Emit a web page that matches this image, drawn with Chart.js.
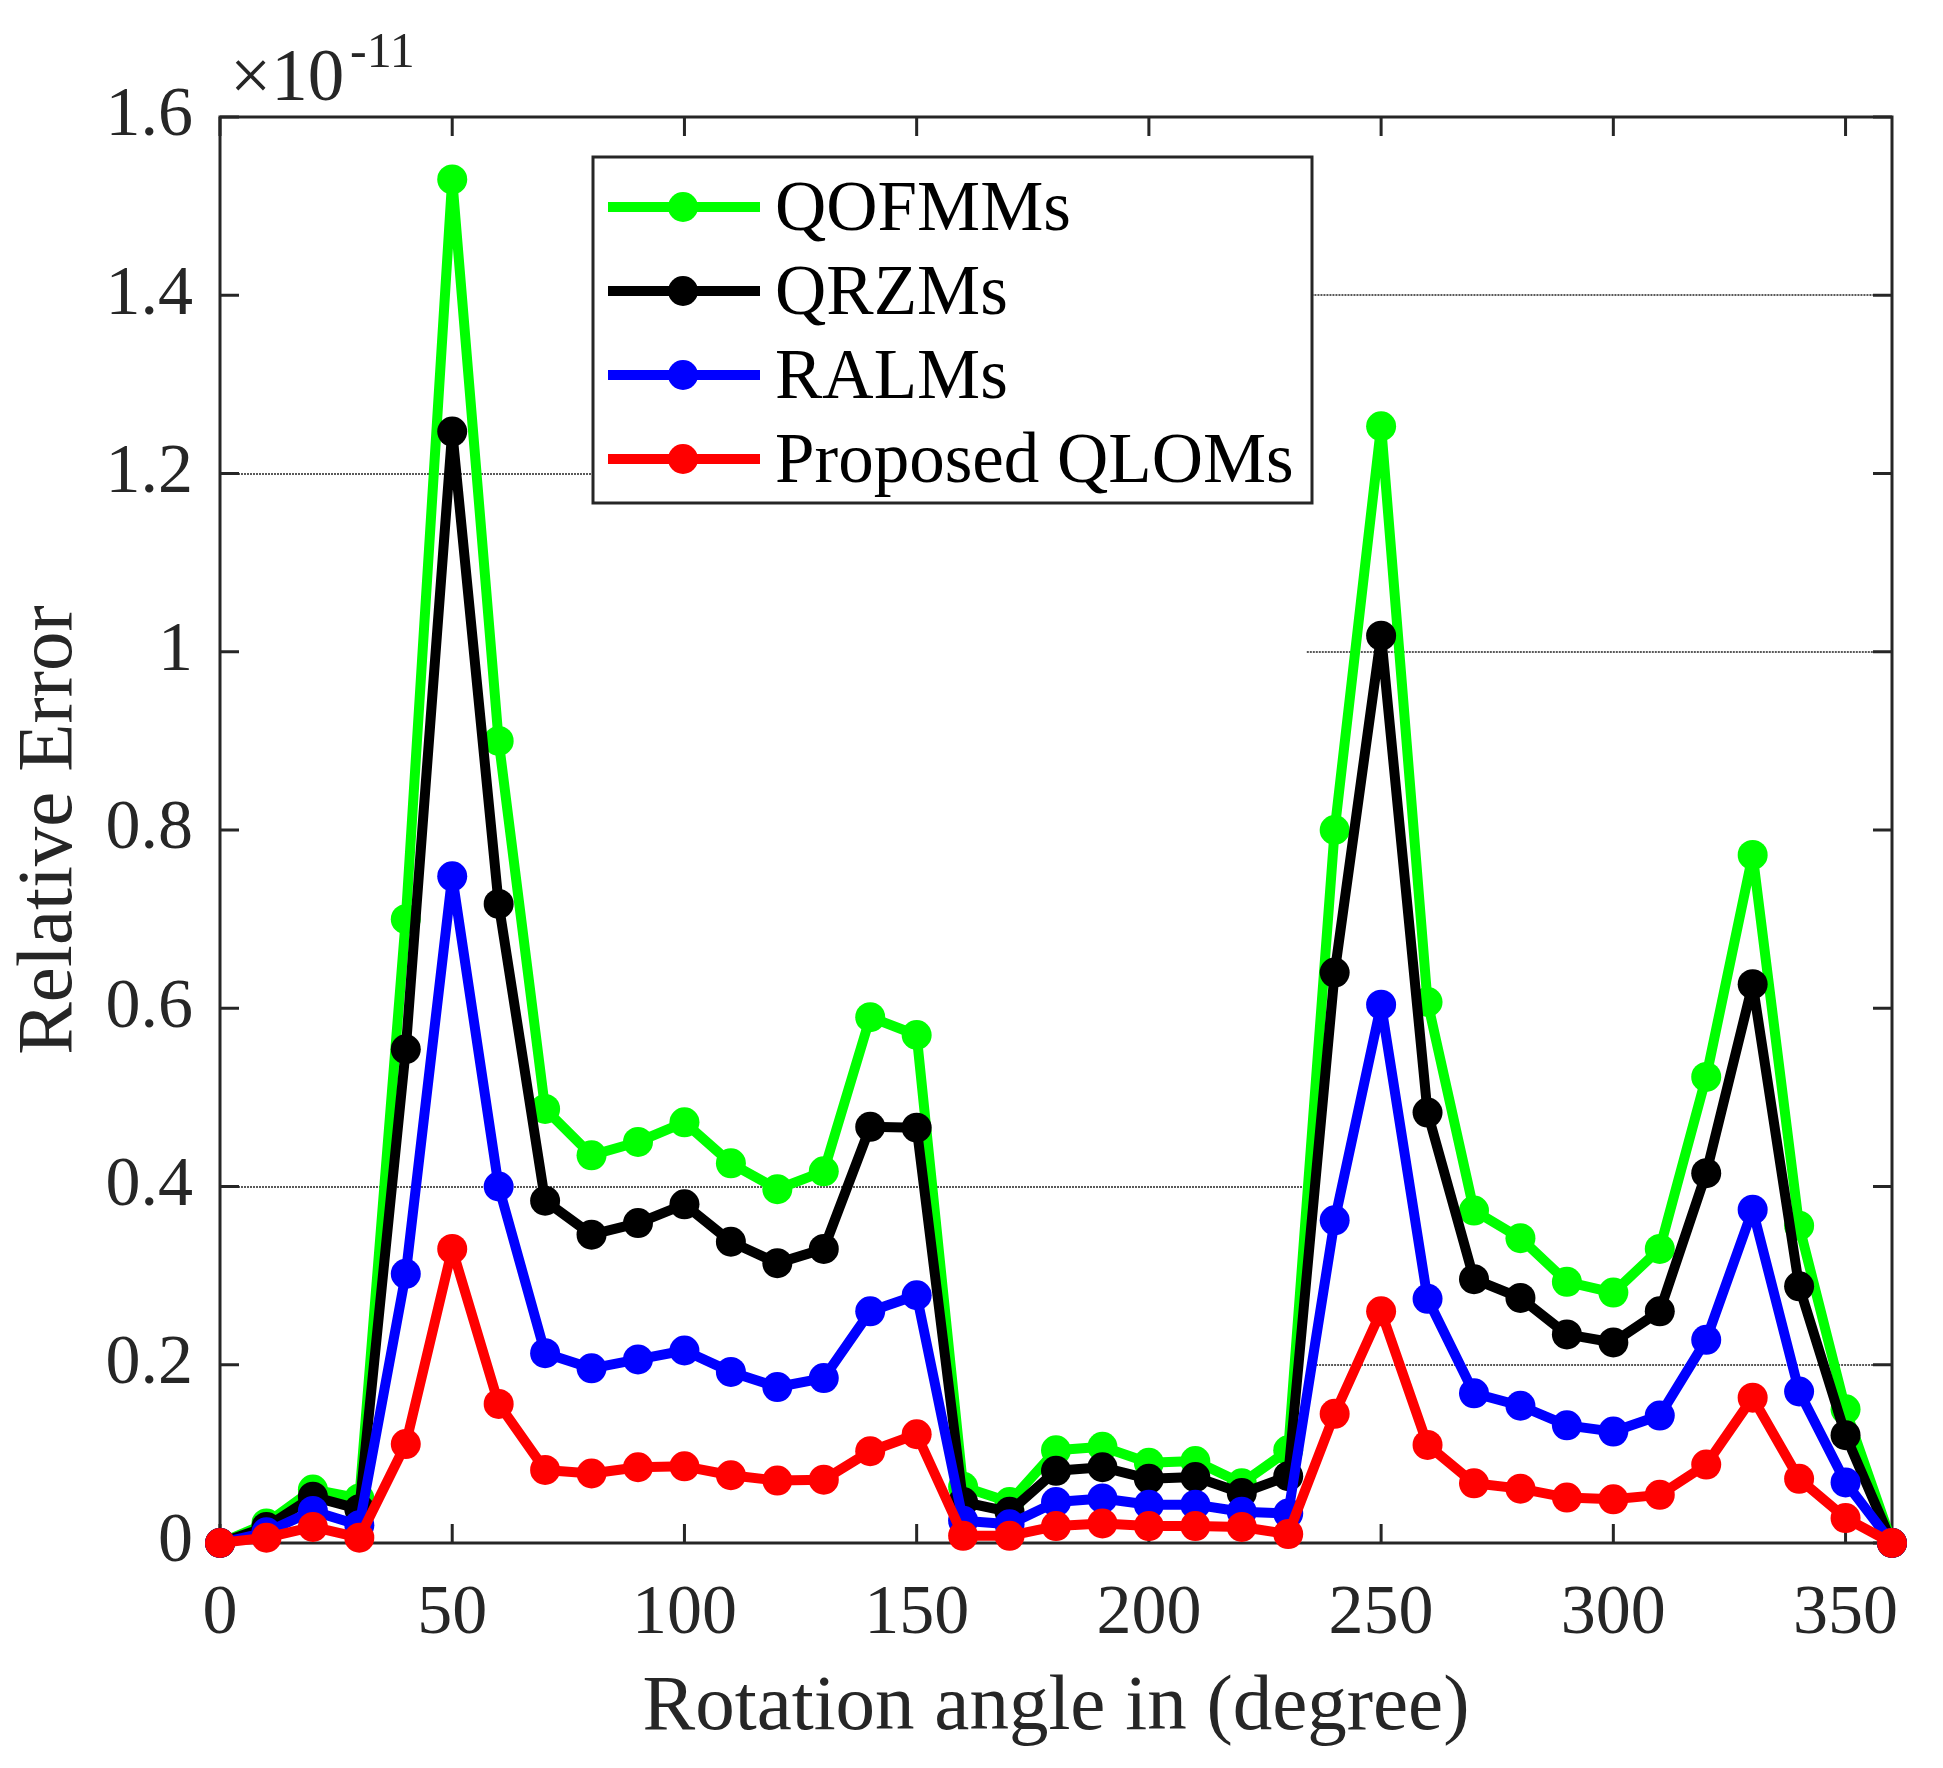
<!DOCTYPE html>
<html>
<head>
<meta charset="utf-8">
<script src="https://cdn.jsdelivr.net/npm/chart.js@4.4.1/dist/chart.umd.min.js"></script>
<style>
  html, body { margin: 0; padding: 0; background: #fff; }
  #wrap { width: 1943px; height: 1768px; }
</style>
</head>
<body>
<div id="wrap"><canvas id="errChart"></canvas></div>
<script>
// Rotation angles (degree)
const angles = [0, 10, 20, 30, 40, 50, 60, 70, 80, 90, 100, 110, 120, 130, 140, 150, 160, 170, 180,
    190, 200, 210, 220, 230, 240, 250, 260, 270, 280, 290, 300, 310, 320, 330, 340, 350, 360];

// Relative error, in units of 1e-11
const qofmms = [0, 0.022, 0.06, 0.05, 0.70, 1.53, 0.90, 0.487, 0.435, 0.45, 0.472, 0.426, 0.397, 0.417,
    0.59, 0.57, 0.063, 0.046, 0.104, 0.108, 0.09, 0.092, 0.067, 0.104, 0.80, 1.253, 0.607, 0.373,
    0.342, 0.293, 0.281, 0.33, 0.523, 0.772, 0.356, 0.15, 0];
const qrzms = [0, 0.018, 0.052, 0.038, 0.554, 1.247, 0.717, 0.384, 0.346, 0.359, 0.38, 0.338, 0.314, 0.33,
    0.467, 0.466, 0.046, 0.035, 0.081, 0.085, 0.072, 0.074, 0.056, 0.075, 0.64, 1.018, 0.483, 0.296,
    0.275, 0.234, 0.225, 0.26, 0.415, 0.627, 0.288, 0.121, 0];
const ralms = [0, 0.012, 0.036, 0.02, 0.302, 0.748, 0.40, 0.213, 0.196, 0.206, 0.216, 0.192, 0.175, 0.185,
    0.26, 0.278, 0.025, 0.021, 0.046, 0.05, 0.043, 0.043, 0.035, 0.033, 0.362, 0.604, 0.274, 0.168,
    0.154, 0.132, 0.125, 0.143, 0.228, 0.374, 0.17, 0.068, 0];
const qloms = [0, 0.006, 0.018, 0.006, 0.111, 0.33, 0.156, 0.082, 0.078, 0.085, 0.086, 0.076, 0.07, 0.071,
    0.103, 0.122, 0.008, 0.008, 0.019, 0.022, 0.019, 0.019, 0.018, 0.01, 0.145, 0.26, 0.11, 0.067,
    0.061, 0.051, 0.049, 0.054, 0.088, 0.163, 0.072, 0.028, 0];

const seriesNames = ['QOFMMs', 'QRZMs', 'RALMs', 'Proposed QLOMs'];
const seriesColors = ['#00ff00', '#000000', '#0000ff', '#ff0000'];

const xTicks = [0, 50, 100, 150, 200, 250, 300, 350];
const yTicks = [0, 0.2, 0.4, 0.6, 0.8, 1, 1.2, 1.4, 1.6];

// leftover grid line pieces visible in the figure: [y value, x from, x to]
const gridPieces = [[1.4, 235, 360], [1.2, 0, 80], [1, 234, 360], [0.4, 0, 233], [0.2, 236, 360]];

const serif = "'Liberation Serif', 'Times New Roman', serif";
const ink = '#262626';

function toPoints(values) {
    return angles.map((a, i) => ({ x: a, y: values[i] }));
}

const allSeries = [qofmms, qrzms, ralms, qloms];

const datasets = allSeries.map((vals, i) => ({
    label: seriesNames[i],
    data: toPoints(vals),
    borderColor: seriesColors[i],
    backgroundColor: seriesColors[i],
    pointBackgroundColor: seriesColors[i],
    pointBorderColor: seriesColors[i],
    borderWidth: 10,
    borderJoinStyle: 'round',
    pointRadius: 15,
    pointBorderWidth: 0,
    tension: 0,
    clip: false,
    order: allSeries.length - 1 - i
}));

// axes box, inward ticks and grid remnants (drawn under the data, like MATLAB)
const frame = {
    id: 'frame',
    beforeDatasetsDraw(chart) {
        const { ctx, chartArea: a, scales: { x, y } } = chart;
        ctx.save();
        ctx.strokeStyle = '#5a5a5a';
        ctx.lineWidth = 2;
        ctx.setLineDash([2, 1]);
        gridPieces.forEach(([v, x0, x1]) => {
            const py = Math.round(y.getPixelForValue(v));
            ctx.beginPath();
            ctx.moveTo(x.getPixelForValue(x0), py);
            ctx.lineTo(x.getPixelForValue(x1), py);
            ctx.stroke();
        });
        ctx.setLineDash([]);

        ctx.strokeStyle = ink;
        ctx.lineWidth = 3;
        ctx.strokeRect(a.left, a.top, a.right - a.left, a.bottom - a.top);
        const tl = 19;
        ctx.beginPath();
        xTicks.forEach(v => {
            const px = x.getPixelForValue(v);
            ctx.moveTo(px, a.bottom); ctx.lineTo(px, a.bottom - tl);
            ctx.moveTo(px, a.top); ctx.lineTo(px, a.top + tl);
        });
        yTicks.forEach(v => {
            const py = y.getPixelForValue(v);
            ctx.moveTo(a.left, py); ctx.lineTo(a.left + tl, py);
            ctx.moveTo(a.right, py); ctx.lineTo(a.right - tl, py);
        });
        ctx.stroke();
        ctx.restore();
    },
    afterDraw(chart) {
        const { ctx, chartArea: a } = chart;
        ctx.save();
        // exponent
        ctx.fillStyle = ink;
        ctx.textBaseline = 'alphabetic';
        ctx.textAlign = 'left';
        ctx.font = `73px ${serif}`;
        ctx.fillText('\u00d710', a.left + 10, a.top - 17);
        ctx.font = `50px ${serif}`;
        ctx.fillText('-11', a.left + 130, a.top - 50);

        // legend box
        const bx = 593, by = 157, bw = 719, bh = 346;
        ctx.fillStyle = '#fff';
        ctx.fillRect(bx, by, bw, bh);
        ctx.strokeStyle = ink;
        ctx.lineWidth = 3;
        ctx.strokeRect(bx, by, bw, bh);
        ctx.font = `71px ${serif}`;
        ctx.textBaseline = 'middle';
        chart.data.datasets.forEach((ds, i) => {
            const cy = by + 50 + i * 84;
            ctx.strokeStyle = ds.borderColor;
            ctx.lineWidth = 10;
            ctx.beginPath();
            ctx.moveTo(bx + 15, cy);
            ctx.lineTo(bx + 167, cy);
            ctx.stroke();
            ctx.fillStyle = ds.borderColor;
            ctx.beginPath();
            ctx.arc(bx + 90, cy, 15, 0, Math.PI * 2);
            ctx.fill();
            ctx.fillStyle = '#000';
            ctx.fillText(ds.label, bx + 182, cy + 4);
        });
        ctx.restore();
    }
};

new Chart(document.getElementById('errChart'), {
    type: 'line',
    data: { datasets: datasets },
    options: {
        responsive: true,
        maintainAspectRatio: false,
        devicePixelRatio: 1,
        animation: false,
        layout: { padding: { top: 117, right: 51, left: 0, bottom: 0 } },
        scales: {
            x: {
                type: 'linear',
                min: 0,
                max: 360,
                grid: { display: false, drawTicks: false },
                border: { display: false },
                afterBuildTicks: s => { s.ticks = xTicks.map(v => ({ value: v })); },
                afterFit: s => { s.height = 225; },
                ticks: {
                    autoSkip: false,
                    maxRotation: 0,
                    padding: 30,
                    color: ink,
                    font: { family: serif, size: 70 },
                    callback: v => String(v)
                },
                title: {
                    display: true,
                    text: 'Rotation angle in (degree)',
                    color: ink,
                    font: { family: serif, size: 79 },
                    padding: { top: 0, bottom: 12 }
                }
            },
            y: {
                min: 0,
                max: 1.6,
                grid: { display: false, drawTicks: false },
                border: { display: false },
                afterBuildTicks: s => { s.ticks = yTicks.map(v => ({ value: v })); },
                afterFit: s => { s.width = 220; },
                ticks: {
                    padding: 27,
                    color: ink,
                    font: { family: serif, size: 70 },
                    callback: v => String(Number(v.toFixed(1)))
                },
                title: {
                    display: true,
                    text: 'Relative Error',
                    color: ink,
                    font: { family: serif, size: 79 },
                    padding: { top: 3, bottom: 0 }
                }
            }
        },
        plugins: {
            legend: { display: false },
            tooltip: { enabled: false }
        }
    },
    plugins: [frame]
});
</script>
</body>
</html>
